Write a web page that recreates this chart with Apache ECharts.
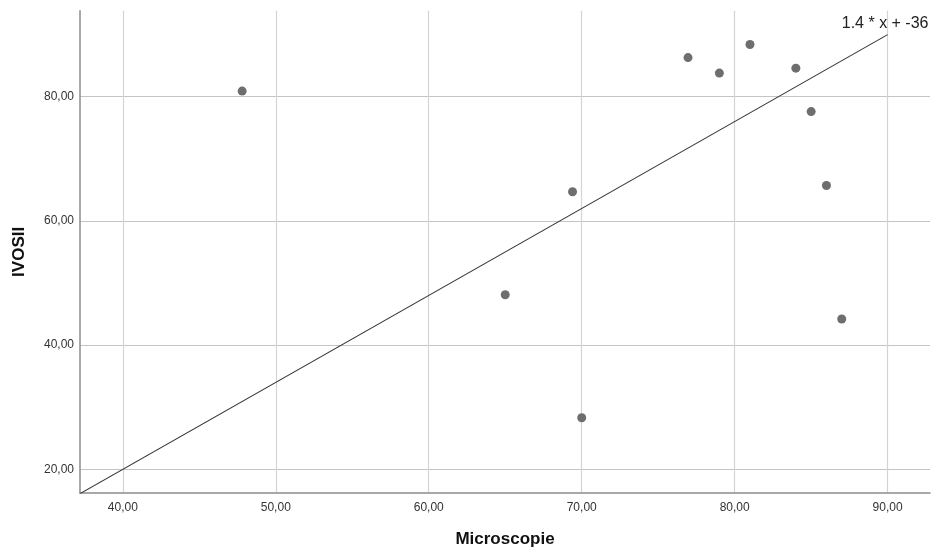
<!DOCTYPE html>
<html>
<head>
<meta charset="utf-8">
<script src="https://cdn.jsdelivr.net/npm/echarts@6/dist/echarts.min.js"></script>
<style>html,body{margin:0;padding:0;background:#fff}#c{width:933px;height:552px}</style>
</head>
<body>
<div id="c"></div>
<script>
const microscopie = [47.8, 65.0, 69.4, 70.0, 76.95, 79.0, 81.0, 84.0, 85.0, 86.0, 87.0];
const ivosii      = [80.9, 48.1, 64.7, 28.3, 86.3, 83.8, 88.4, 84.6, 77.6, 65.7, 44.2];
const xTicks = [40, 50, 60, 70, 80, 90];
const yTicks = [20, 40, 60, 80];
const fitSlope = 1.4, fitIntercept = -36;
const fitLabel = '1.4 * x + -36';
const xMin = 37.2, xMax = 92.77, yMin = 16.18, yMax = 93.85;
const fitXStart = xMin, fitXEnd = 90;

const fmt = v => v.toFixed(2).replace('.', ',');
const points = microscopie.map((x, i) => [x, ivosii[i]]);
const fitLine = [[fitXStart, fitSlope * fitXStart + fitIntercept], [fitXEnd, fitSlope * fitXEnd + fitIntercept]];

const chart = echarts.init(document.getElementById('c'));
chart.setOption({
  animation: false,
  grid: {left: 80, right: 3, top: 10.7, bottom: 59, containLabel: false, outerBoundsMode: 'none'},
  xAxis: {
    type: 'value', min: xMin, max: xMax,
    name: 'Microscopie', nameLocation: 'middle', nameGap: 38,
    nameTextStyle: {fontFamily: 'Liberation Sans', fontSize: 17, fontWeight: 'bold', color: '#111'},
    axisLine: {show: true, lineStyle: {color: '#8c8c8c', width: 1.5}},
    axisTick: {show: false, customValues: xTicks},
    axisLabel: {customValues: xTicks, formatter: fmt, fontFamily: 'Liberation Sans', fontSize: 12, color: '#333', margin: 9},
    splitLine: {show: true, lineStyle: {color: '#d4d4d4', width: 1.2}}
  },
  yAxis: {
    type: 'value', min: yMin, max: yMax,
    name: 'IVOSII', nameLocation: 'middle', nameGap: 52, nameRotate: 90,
    nameTextStyle: {fontFamily: 'Liberation Sans', fontSize: 17, fontWeight: 'bold', color: '#111'},
    axisLine: {show: true, lineStyle: {color: '#8c8c8c', width: 1.5}},
    axisTick: {show: false, customValues: yTicks},
    axisLabel: {customValues: yTicks, formatter: fmt, fontFamily: 'Liberation Sans', fontSize: 12, color: '#333', margin: 6},
    splitLine: {show: true, lineStyle: {color: '#c4c4c4', width: 1.2}}
  },
  series: [
    {
      type: 'line', data: fitLine, symbol: 'none', silent: true,
      lineStyle: {color: '#333', width: 1.1},
      z: 3,
      markPoint: {
        symbol: 'circle', symbolSize: 0,
        data: [{coord: fitLine[1], value: fitLabel}],
        label: {show: true, position: 'top', distance: 3, offset: [-2.5, 0], formatter: fitLabel,
                fontFamily: 'Liberation Sans', fontSize: 16, color: '#222'}
      }
    },
    {
      type: 'scatter', data: points, symbol: 'circle', symbolSize: 9,
      itemStyle: {color: '#6e6e6e', opacity: 1}, z: 4
    }
  ]
});
</script>
</body>
</html>
